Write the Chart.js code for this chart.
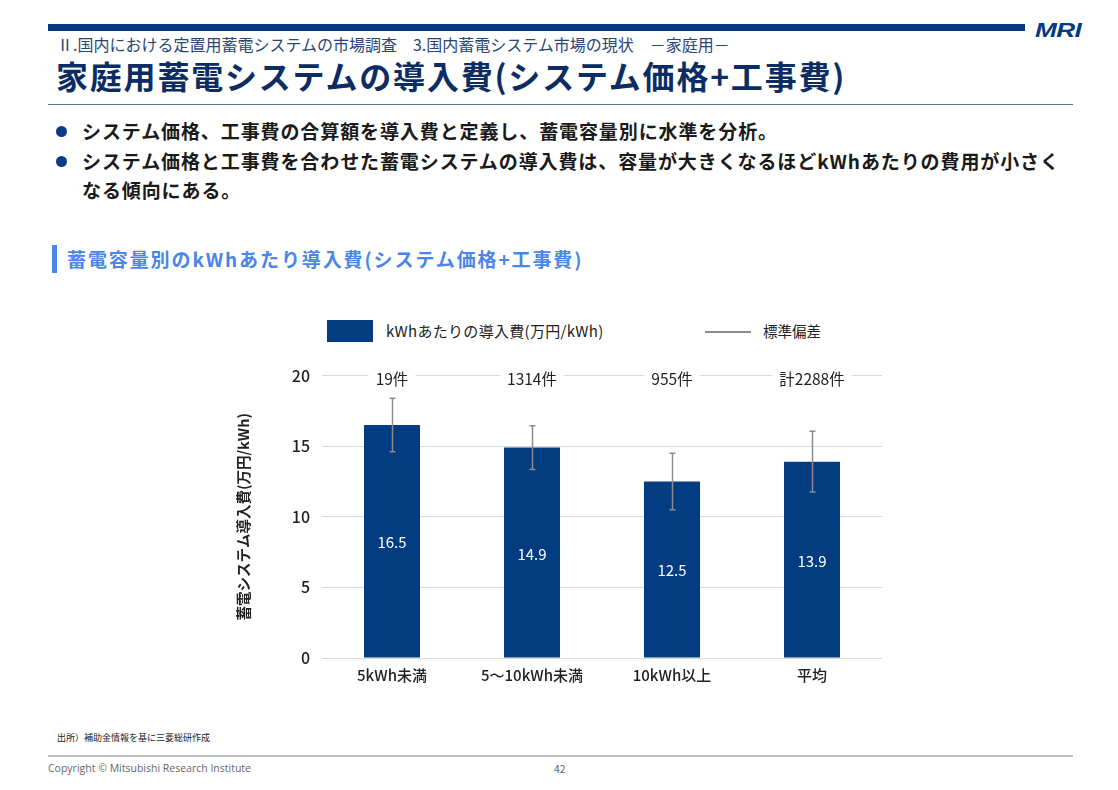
<!DOCTYPE html>
<html lang="ja">
<head>
<meta charset="utf-8">
<script src="https://cdn.jsdelivr.net/npm/chart.js@4.4.1/dist/chart.umd.min.js"></script>
<style>
  html, body { margin:0; padding:0; background:#fff; }
  body { width:1118px; height:790px; position:relative; overflow:hidden; font-family:"Noto Sans CJK JP","Noto Sans",sans-serif; }
  .abs { position:absolute; white-space:nowrap; }
  #topbar { left:48px; top:24px; width:977px; height:7px; background:#063a80; }
  #logo { left:1035px; top:18px; font:italic 900 21px "Liberation Sans",Arial,sans-serif; color:#063a80; letter-spacing:-0.5px; transform:scaleX(1.25); transform-origin:left top; }
  #sub { left:57px; top:32px; font-size:16px; color:#2a4675; }
  #title { left:56px; top:52px; font-size:32px; font-weight:bold; color:#0c2d63; letter-spacing:1.8px; }
  #rule1 { left:48px; top:104px; width:1025px; height:1px; background:#5a7295; }
  .bullet { left:82px; font-size:19px; font-weight:bold; color:#1a1a1a; letter-spacing:0.9px; }
  .dot { width:11px; height:11px; border-radius:50%; background:#0d3a85; }
  #secbar { left:52px; top:245px; width:5px; height:28px; background:#4a86e8; }
  #sectitle { left:67px; top:245px; font-size:19px; font-weight:bold; color:#4a86e8; letter-spacing:1.9px; }
  #source { left:57px; top:731px; font-size:9px; color:#222; }
  #rule2 { left:48px; top:755px; width:1025px; height:2px; background:#bdbdbd; }
  #copy { left:48px; top:761px; font-size:10.5px; color:#666; font-family:"Open Sans","Noto Sans",sans-serif; }
  #page { left:554px; top:761px; font-size:10.5px; color:#666; }
  #legbox { left:327px; top:320px; width:46px; height:22px; background:#033c81; }
  #legtxt1 { left:386px; top:320px; font-size:15px; color:#222; letter-spacing:0.3px; }
  #legline { left:705px; top:331px; width:46px; height:2px; background:#8c8c8c; }
  #legtxt2 { left:763px; top:320px; font-size:14.5px; color:#222; }
  #wrap { position:absolute; left:230px; top:354px; width:660px; height:340px; }
</style>
</head>
<body>
<div class="abs" id="topbar"></div>
<div class="abs" id="logo">MRI</div>
<div class="abs" id="sub">Ⅱ.国内における定置用蓄電システムの市場調査　3.国内蓄電システム市場の現状　－家庭用－</div>
<div class="abs" id="title">家庭用蓄電システムの導入費(システム価格+工事費)</div>
<div class="abs" id="rule1"></div>

<div class="abs dot" style="left:56px;top:126px;"></div>
<div class="abs bullet" style="top:117px;">システム価格、工事費の合算額を導入費と定義し、蓄電容量別に水準を分析。</div>
<div class="abs dot" style="left:56px;top:156px;"></div>
<div class="abs bullet" style="top:147px;">システム価格と工事費を合わせた蓄電システムの導入費は、容量が大きくなるほどkWhあたりの費用が小さく</div>
<div class="abs bullet" style="top:176px;">なる傾向にある。</div>

<div class="abs" id="secbar"></div>
<div class="abs" id="sectitle">蓄電容量別のkWhあたり導入費(システム価格+工事費)</div>

<div class="abs" id="legbox"></div>
<div class="abs" id="legtxt1">kWhあたりの導入費(万円/kWh)</div>
<div class="abs" id="legline"></div>
<div class="abs" id="legtxt2">標準偏差</div>

<div id="wrap"><canvas id="c" width="660" height="340"></canvas></div>

<div class="abs" id="source">出所）補助金情報を基に三菱総研作成</div>
<div class="abs" id="rule2"></div>
<div class="abs" id="copy">Copyright © Mitsubishi Research Institute</div>
<div class="abs" id="page">42</div>

<script>
const categories = ["5kWh未満", "5～10kWh未満", "10kWh以上", "平均"];
const costValues = [16.5, 14.9, 12.5, 13.9];
const stdDev = [1.9, 1.55, 2.0, 2.15];
const counts = ["19件", "1314件", "955件", "計2288件"];
const yTicks = [0, 5, 10, 15, 20];

const fontFam = '"Noto Sans CJK JP","Noto Sans",sans-serif';

const errorBars = {
  id: 'errorBars',
  afterDatasetsDraw(chart) {
    const ctx = chart.ctx, y = chart.scales.y;
    const meta = chart.getDatasetMeta(0);
    ctx.save();
    ctx.strokeStyle = '#8c8c8c';
    ctx.lineWidth = 1.5;
    meta.data.forEach((bar, i) => {
      const v = costValues[i], sd = stdDev[i];
      const top = y.getPixelForValue(v + sd), bot = y.getPixelForValue(v - sd);
      const x = Math.round(bar.x) + 0.5;
      ctx.beginPath();
      ctx.moveTo(x, top); ctx.lineTo(x, bot);
      ctx.moveTo(x - 3, top); ctx.lineTo(x + 3, top);
      ctx.moveTo(x - 3, bot); ctx.lineTo(x + 3, bot);
      ctx.stroke();
    });
    ctx.fillStyle = '#ffffff';
    ctx.font = '15px ' + fontFam;
    ctx.textAlign = 'center';
    ctx.textBaseline = 'middle';
    meta.data.forEach((bar, i) => {
      const mid = (y.getPixelForValue(costValues[i]) + y.getPixelForValue(0)) / 2;
      ctx.fillText(costValues[i].toFixed(1), bar.x, mid + 1);
    });
    ctx.font = '15.5px ' + fontFam;
    const ty = y.getPixelForValue(20);
    meta.data.forEach((bar, i) => {
      const w = ctx.measureText(counts[i]).width;
      ctx.fillStyle = '#ffffff';
      ctx.fillRect(bar.x - w / 2 - 7, ty - 10, w + 14, 20);
      ctx.fillStyle = '#222';
      ctx.fillText(counts[i], bar.x, ty + 4);
    });
    ctx.restore();
  }
};

new Chart(document.getElementById('c'), {
  type: 'bar',
  data: {
    labels: categories,
    datasets: [{
      label: 'kWhあたりの導入費(万円/kWh)',
      data: costValues,
      backgroundColor: '#033c81',
      barPercentage: 0.4,
      categoryPercentage: 1.0
    }]
  },
  options: {
    responsive: false,
    animation: false,
    layout: { padding: { top: 8, right: 8, bottom: 4, left: 0 } },
    plugins: { legend: { display: false }, tooltip: { enabled: false } },
    scales: {
      x: {
        grid: { display: false },
        border: { display: false },
        ticks: { color: '#222', font: { family: fontFam, size: 15, weight: '500' }, padding: 0 },
        afterFit(s) { s.height = 32; }
      },
      y: {
        min: 0, max: 20,
        afterBuildTicks(s) { s.ticks = yTicks.map(v => ({ value: v })); },
        grid: { color: '#d9d9d9', lineWidth: 1, drawTicks: false },
        border: { display: false },
        ticks: { color: '#222', font: { family: fontFam, size: 16, weight: '500' }, padding: 12 },
        title: {
          display: true,
          text: '蓄電システム導入費(万円/kWh)',
          color: '#222',
          font: { family: fontFam, size: 14.5, weight: 'bold' },
          padding: { top: 5, bottom: 0 }
        },
        afterFit(s) { s.width = 92; }
      }
    }
  },
  plugins: [errorBars]
});
</script>
</body>
</html>
